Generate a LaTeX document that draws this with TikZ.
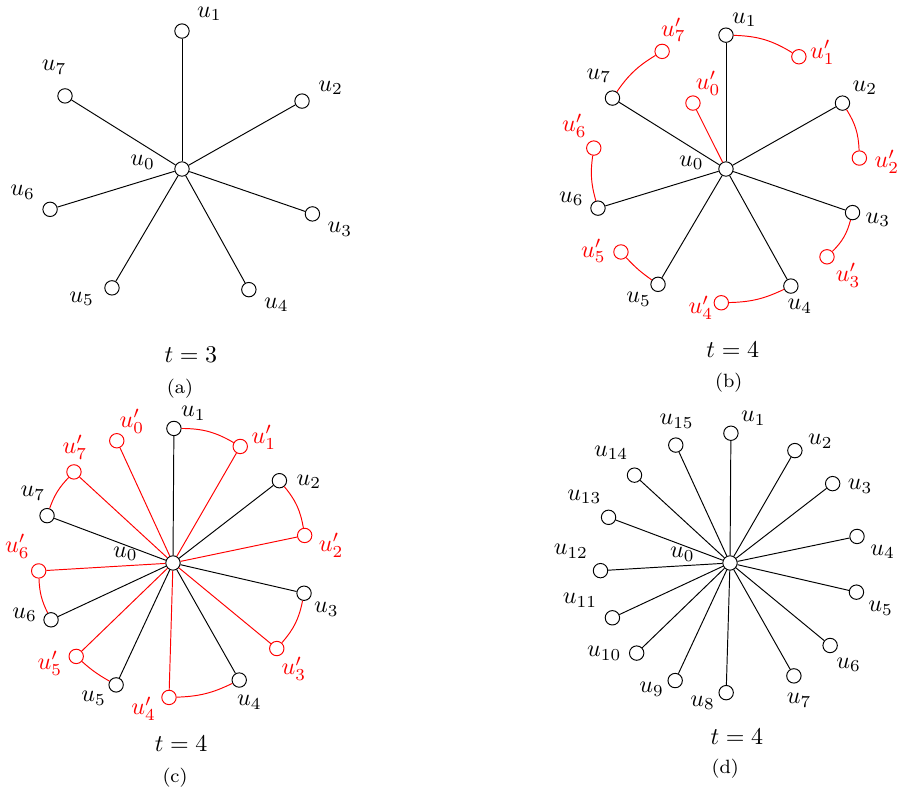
\documentclass[tikz,border=0pt]{standalone}
\usepackage{amsmath, amssymb}
\usepackage{tikz}
\usepackage{xcolor}

\tikzset{
  vtx/.style={circle, draw, fill=white, inner sep=0pt, minimum size=6pt},
  rvtx/.style={vtx, draw=red},
  redge/.style={draw=red},
  lbl/.style={anchor=center, inner sep=0pt},
  rlbl/.style={lbl, text=red}
}

\begin{document}
\begin{tikzpicture}
\useasboundingbox (0,0) rectangle (13.238,-11.627);

% (a)
\begin{scope}[shift={(2.665,-2.475)}]
\node[vtx, label={[lbl, label distance=13.5pt]170:$u_0$}] (a0) at (0,0) {};
\foreach \i/\ang/\la/\ld in {1/90/32/10.3, 2/29.5/25/9.9, 3/-19/-29/9.9, 4/-61/-29/9.9,
    5/-120.5/200/10.3, 6/-163/148/10.3, 7/148/111/9.5} {
  \node[vtx, label={[lbl, label distance=\ld pt]\la:$u_{\i}$}] (a\i) at (\ang:2.02) {};
  \draw (a0) -- (a\i);
}
\node (ta) at (0.13,-2.72) {$t=3$};
\node (capa) at (-0.03,-3.21) {\footnotesize (a)};
\end{scope}

% (b)
\begin{scope}[shift={(10.631,-2.475)}]
\node[vtx, label={[lbl, label distance=11.4pt]170:$u_0$}] (b0) at (0,0) {};
\foreach \i/\ang/\la/\ld in {1/90/40/6.8, 2/29.5/34/8.1, 3/-19/-16/7.8, 4/-61/-66/6.1,
    5/-120.5/218/7.1, 6/-163/161/8.5, 7/148/121/7.7} {
  \node[vtx, label={[lbl, label distance=\ld pt]\la:$u_{\i}$}] (b\i) at (\ang:1.96) {};
  \draw (b0) -- (b\i);
}
\node[rvtx, label={[rlbl, label distance=7.1pt]52:$u'_0$}] (bp0) at (116.6:1.08) {};
\draw[redge] (b0) -- (bp0);
\foreach \i/\ang/\la/\ld/\bnd in {1/57/10/6.7/15, 2/4.7/-8/8.4/15, 3/-41/-41/8.5/15, 4/-92/194/5.6/12,
    5/-141.7/178/8.3/6, 6/171/131/9.1/12, 7/118.5/62/6.9/12} {
  \node[rvtx, label={[rlbl, label distance=\ld pt]\la:$u'_{\i}$}] (bp\i) at (\ang:1.96) {};
  \draw[redge] (b\i) to[bend left=\bnd] (bp\i);
}
\node (tb) at (0.10,-2.64) {$t=4$};
\node (capb) at (0.04,-3.13) {\footnotesize (b)};
\end{scope}

% (c)
\begin{scope}[shift={(2.533,-8.244)}]
\node[vtx, label={[lbl, label distance=17pt]169:$u_0$}] (c0) at (0,0) {};
\foreach \i/\ang/\la/\ld in {1/89.6/38/7.1, 2/37.7/-2/9.1, 3/-13/-36/8.3, 4/-60.5/-66/7.1,
    5/-115/211/7.7, 6/-155/169/8, 7/159.4/122/7.9} {
  \node[vtx, label={[lbl, label distance=\ld pt]\la:$u_{\i}$}] (c\i) at (\ang:1.97) {};
  \draw (c0) -- (c\i);
}
\node[rvtx, label={[rlbl, label distance=7.1pt]52:$u'_0$}] (cp0) at (114.7:1.97) {};
\draw[redge] (c0) -- (cp0);
\foreach \i/\ang/\la/\ld/\bnd in {1/60/21/7.3/15, 2/11.8/-21/8.6/15, 3/-39.5/-50/7.9/15, 4/-91.7/204/8.4/12,
    5/-136/195/8.2/6, 6/183.4/131/10.3/12, 7/137.4/88/7/12} {
  \node[rvtx, label={[rlbl, label distance=\ld pt]\la:$u'_{\i}$}] (cp\i) at (\ang:1.97) {};
  \draw[redge] (c0) -- (cp\i);
  \draw[redge] (c\i) to[bend left=\bnd] (cp\i);
}
\node (tc) at (0.12,-2.65) {$t=4$};
\node (capc) at (0.03,-3.15) {\footnotesize (c)};
\end{scope}

% (d)
\begin{scope}[shift={(10.690,-8.244)}]
\node[vtx, label={[lbl, label distance=16.9pt]170:$u_0$}] (d0) at (0,0) {};
\foreach \i/\ang/\la/\ld in {1/89.6/34/8.1, 2/60/20/8.1, 3/37.7/-6/8.3, 4/11.8/-31/9.2,
    5/-13/-34/9, 6/-39.5/-46/7.9, 7/-60.5/-78/7.2, 8/-91.7/203/7.5,
    9/-115/201/7.3, 10/-136/180/10.3, 11/-155/152/12.1, 12/-176.6/147/11.5,
    13/159.4/140/10, 14/137.4/136/10.3, 15/114.7/88/6.6} {
  \node[vtx, label={[lbl, label distance=\ld pt]\la:$u_{\i}$}] (d\i) at (\ang:1.9) {};
  \draw (d0) -- (d\i);
}
\node (td) at (0.10,-2.55) {$t=4$};
\node (capd) at (-0.07,-3.02) {\footnotesize (d)};
\end{scope}
\end{tikzpicture}
\end{document}
